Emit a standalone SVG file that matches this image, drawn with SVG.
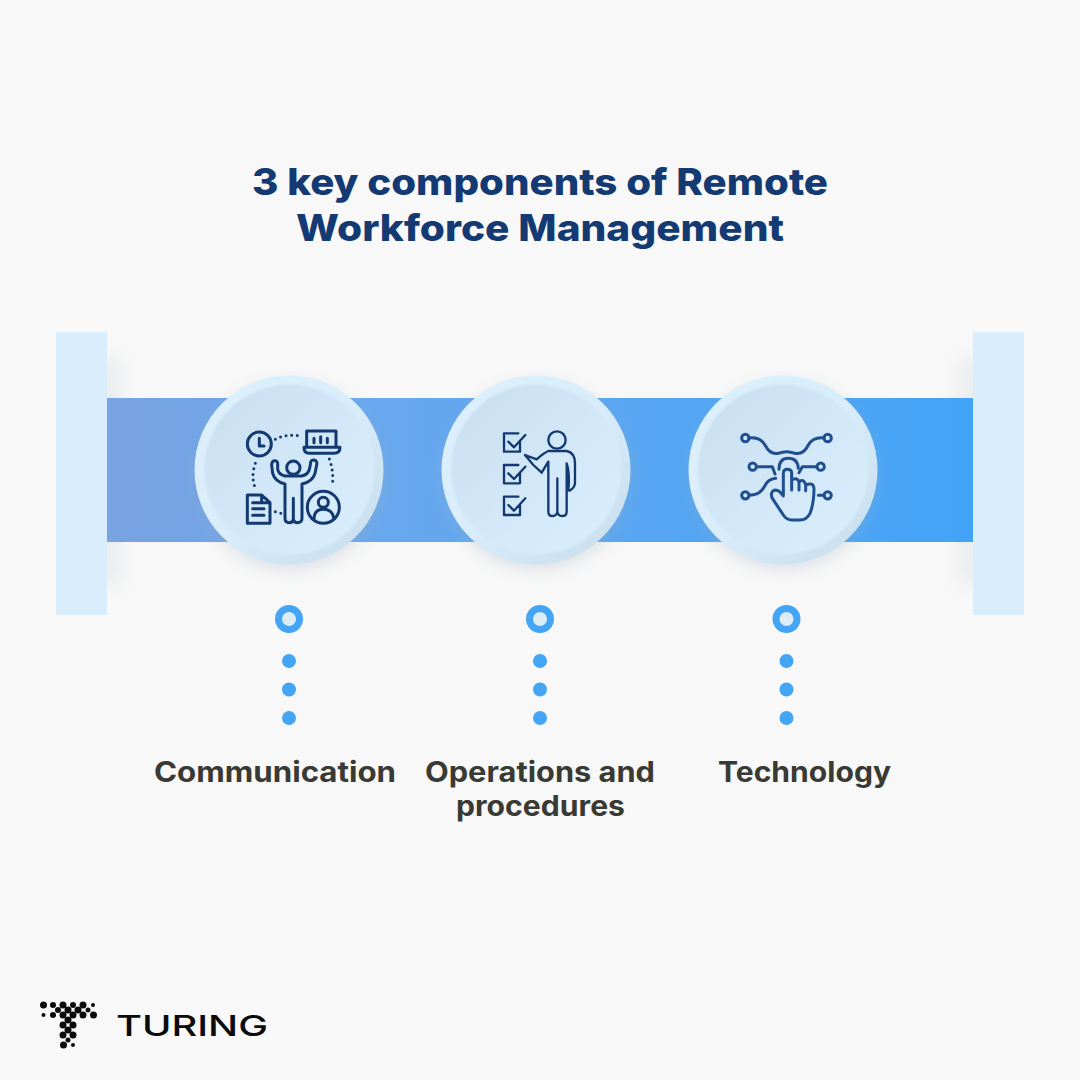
<svg xmlns="http://www.w3.org/2000/svg" width="1080" height="1080" viewBox="0 0 1080 1080">
<defs>
<linearGradient id="band" x1="0" x2="1" y1="0" y2="0"><stop offset="0" stop-color="#78a2e2"/><stop offset="0.3" stop-color="#69a8ee"/><stop offset="0.6" stop-color="#58a6f2"/><stop offset="1" stop-color="#42a3f8"/></linearGradient>
<linearGradient id="disc" x1="0" x2="1" y1="0" y2="1"><stop offset="0" stop-color="#c8deee"/><stop offset="0.55" stop-color="#d3e8f8"/><stop offset="1" stop-color="#dbeffe"/></linearGradient>
<linearGradient id="rim" x1="0" x2="1" y1="0" y2="1"><stop offset="0" stop-color="#ddf0fd"/><stop offset="0.5" stop-color="#d8ecfa"/><stop offset="1" stop-color="#c6dcec"/></linearGradient>
<filter id="blur" x="-30%" y="-30%" width="160%" height="160%"><feGaussianBlur stdDeviation="9"/></filter>
<filter id="blurS" x="-300%" y="-30%" width="700%" height="160%"><feGaussianBlur stdDeviation="10"/></filter>
<filter id="blur2" x="-30%" y="-30%" width="160%" height="160%"><feGaussianBlur stdDeviation="1"/></filter>
</defs>
<style>
.title{font-family:"Inter","Liberation Sans",sans-serif;font-weight:800;font-size:37px;fill:#133a72;text-anchor:middle}
.label{font-family:"Inter","Liberation Sans",sans-serif;font-weight:700;font-size:28px;fill:#3a3a34}
.ic{fill:none;stroke:#133a70;stroke-width:9;stroke-linecap:round;stroke-linejoin:round}
.ic3{fill:none;stroke:#1f4f90;stroke-width:9;stroke-linecap:round;stroke-linejoin:round}
.dot{fill:none;stroke:#133a70;stroke-width:9;stroke-linecap:round;stroke-dasharray:0 17}
.rim{fill:url(#rim)}
.face{fill:url(#disc);filter:url(#blur2)}
.sh{fill:#9fb0bf;opacity:.35;filter:url(#blur)}
.side{fill:#d9edfc}
.pd{fill:#45a5f5}
.lg{fill:#0b0b0b}
</style>
<rect width="1080" height="1080" fill="#f8f8f8"/>
<g id="title">
<text class="title" x="540" y="195" textLength="576" lengthAdjust="spacingAndGlyphs">3 key components of Remote</text>
<text class="title" x="540" y="241" textLength="488" lengthAdjust="spacingAndGlyphs">Workforce Management</text>
</g>
<g id="band-group">
<rect x="102" y="358" width="16" height="226" fill="#b4bcc4" opacity=".3" filter="url(#blurS)"/>
<rect x="962" y="358" width="16" height="226" fill="#b4bcc4" opacity=".3" filter="url(#blurS)"/>
<rect class="side" x="56" y="332" width="51" height="283"/>
<rect class="side" x="973" y="332" width="51" height="283"/>
<rect x="107" y="398" width="866" height="144" fill="url(#band)"/>
</g>
<g id="node-communication">
<circle class="sh" cx="290" cy="476" r="93"/>
<circle class="rim" cx="289" cy="470" r="94.500"/>
<circle class="face" cx="289.500" cy="469.500" r="85"/>
<g transform="translate(190 370) scale(.33333)">
<circle class="ic" cx="208" cy="222" r="36"/><path class="ic" d="M208 205V228H222"/>
<path class="ic" d="M350 232V183H438V232M342 232H450Q450 250 432 250H358Q342 250 342 232Z"/>
<path class="ic" d="M372 205V218M392 200V218M412 205V218"/>
<path class="dot" d="M256 208Q290 190 335 198"/>
<path class="dot" d="M196 280Q182 320 196 355"/>
<path class="dot" d="M418 267Q432 305 427 345"/>
<circle class="ic" cx="310" cy="293" r="20"/>
<path class="ic" d="M310 385V448Q308 458 298 458Q285 458 285 445V342Q255 335 248 310L245 285Q245 272 255 272Q264 272 263 285L263 298Q266 313 285 318H335Q355 313 358 298L361 285Q361 268 372 270Q383 272 380 285L375 310Q368 335 336 342V446Q335 458 322 458Q312 458 310 448"/>
<path class="ic" d="M172 375H215L240 398V460H172ZM215 375V398H240M188 398H222M188 416H222M188 436H222"/>
<path class="dot" d="M256 425L282 432"/>
<circle class="ic" cx="400" cy="412" r="48"/><circle class="ic" cx="400" cy="397" r="15"/>
<path class="ic" d="M372 446Q372 418 400 418Q428 418 432 446"/>
</g>
</g>
<g id="node-operations">
<circle class="sh" cx="537" cy="476" r="93"/>
<circle class="rim" cx="536" cy="470" r="94.500"/>
<circle class="face" cx="536" cy="469.500" r="85"/>
<g transform="translate(440 370) scale(.33333)" >
<path class="ic" style="stroke-width:7" d="M240 215V245H192V190H235M205 215L222 232L256 195"/>
<path class="ic" style="stroke-width:7" d="M240 310V340H192V285H235M205 310L222 327L256 290"/>
<path class="ic" style="stroke-width:7" d="M240 405V435H192V380H235M205 405L222 422L256 385"/>
<circle class="ic" style="stroke-width:7" cx="351" cy="210" r="26"/>
<path class="ic" style="stroke-width:7" d="M255 255L290 268Q310 250 325 243H380Q405 248 405 280V340Q403 355 388 362M380 280Q390 310 385 360M325 275L305 308L280 285L255 255M325 275V425Q325 438 338 438Q350 438 352 425V325M352 425Q354 438 366 438Q380 438 380 425V280"/>
</g>
</g>
<g id="node-technology">
<circle class="sh" cx="784" cy="476" r="93"/>
<circle class="rim" cx="783" cy="470" r="94.500"/>
<circle class="face" cx="783" cy="469.500" r="85"/>
<g transform="translate(685 370) scale(.33333)">
<circle class="ic3" cx="181" cy="204" r="11"/><circle class="ic3" cx="428" cy="204" r="11"/>
<circle class="ic3" cx="203" cy="290" r="11"/><circle class="ic3" cx="407" cy="290" r="11"/>
<circle class="ic3" cx="181" cy="376" r="11"/><circle class="ic3" cx="428" cy="376" r="11"/>
<path class="ic3" d="M192 204Q225 200 240 225Q255 255 280 250Q305 240 330 250Q355 255 370 225Q385 200 417 204"/>
<path class="ic3" d="M214 290H262L270 312M396 290H352L342 308M192 376Q225 376 238 350Q248 328 272 325M400 376H417"/>
<path class="ic3" d="M282 298Q282 265 310 265Q338 265 340 295"/>
<path class="ic3" d="M295 378V310Q295 298 307 298Q320 298 320 310V360V330Q335 320 342 335V360V335Q358 325 362 345V362V345Q385 335 387 355Q387 400 375 430Q365 450 345 450H320Q305 450 295 435L262 385Q255 370 265 362Q280 355 295 378Z"/>
</g>
</g>
<g id="connectors">
<g id="conn-1"><circle cx="289" cy="619" r="10.500" fill="#dcecf5" stroke="#45a5f5" stroke-width="7"/><circle class="pd" cx="289" cy="661" r="7"/><circle class="pd" cx="289" cy="689.500" r="7"/><circle class="pd" cx="289" cy="718" r="7"/></g>
<g id="conn-2"><circle cx="540" cy="619" r="10.500" fill="#dcecf5" stroke="#45a5f5" stroke-width="7"/><circle class="pd" cx="540" cy="661" r="7"/><circle class="pd" cx="540" cy="689.500" r="7"/><circle class="pd" cx="540" cy="718" r="7"/></g>
<g id="conn-3"><circle cx="786.500" cy="619" r="10.500" fill="#dcecf5" stroke="#45a5f5" stroke-width="7"/><circle class="pd" cx="786.500" cy="661" r="7"/><circle class="pd" cx="786.500" cy="689.500" r="7"/><circle class="pd" cx="786.500" cy="718" r="7"/></g>
</g>
<g id="labels">
<text class="label" x="154" y="782" textLength="242" lengthAdjust="spacingAndGlyphs">Communication</text>
<text class="label" x="425" y="782" textLength="230" lengthAdjust="spacingAndGlyphs">Operations and</text>
<text class="label" x="456" y="816" textLength="169" lengthAdjust="spacingAndGlyphs">procedures</text>
<text class="label" x="718" y="782" textLength="173" lengthAdjust="spacingAndGlyphs">Technology</text>
</g>
<g id="logo">
<g class="lg">
<circle cx="43.500" cy="1005" r="3.500"/><circle cx="53" cy="1005" r="3"/><circle cx="63" cy="1005" r="3.500"/><circle cx="73" cy="1005" r="3"/><circle cx="83" cy="1005" r="3.500"/><circle cx="93" cy="1005" r="2"/>
<circle cx="58" cy="1010" r="3"/><circle cx="68" cy="1010" r="3.500"/><circle cx="78" cy="1010" r="3.500"/><circle cx="88" cy="1010" r="2.500"/>
<circle cx="43.500" cy="1015" r="2"/><circle cx="53" cy="1015" r="3"/><circle cx="63" cy="1015" r="3.500"/><circle cx="73" cy="1015" r="3.500"/><circle cx="83" cy="1015" r="3.500"/><circle cx="93.500" cy="1015" r="3.500"/>
<circle cx="68" cy="1020" r="3.500"/>
<circle cx="63" cy="1025" r="3.500"/><circle cx="73" cy="1025" r="3.500"/>
<circle cx="68" cy="1030" r="3.500"/>
<circle cx="63" cy="1035" r="3.500"/><circle cx="73" cy="1035" r="3.500"/>
<circle cx="68" cy="1040" r="2.500"/>
<circle cx="63.500" cy="1045" r="3.500"/><circle cx="73" cy="1045" r="2"/>
</g>
<text x="116" y="1036" font-family="Inter, 'Liberation Sans', sans-serif" font-weight="500" font-size="29" fill="#0b0b0b" textLength="152" lengthAdjust="spacingAndGlyphs">TURING</text>
</g>
</svg>
